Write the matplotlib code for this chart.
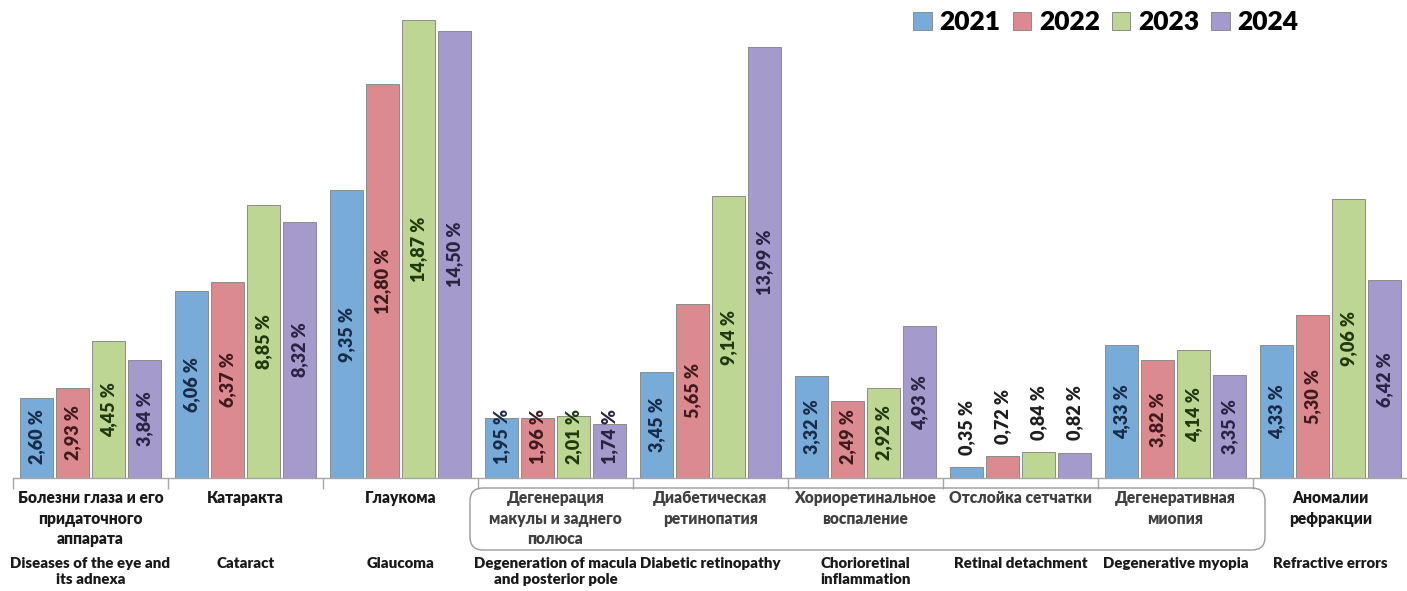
import matplotlib
matplotlib.use("Agg")
import matplotlib.pyplot as plt
import matplotlib.transforms as mtransforms
from matplotlib.patches import FancyBboxPatch, Patch
import numpy as np

plt.rcParams["font.family"] = ["Lato", "Open Sans", "DejaVu Sans"]
plt.rcParams["font.weight"] = "bold"

# -- data ---------------------------------------------------------------------
years = ["2021", "2022", "2023", "2024"]
labels_ru = [
    "Болезни глаза и его\nпридаточного\nаппарата",
    "Катаракта",
    "Глаукома",
    "Дегенерация\nмакулы и заднего\nполюса",
    "Диабетическая\nретинопатия",
    "Хориоретинальное\nвоспаление",
    "Отслойка сетчатки",
    "Дегенеративная\nмиопия",
    "Аномалии\nрефракции",
]
labels_en = [
    "Diseases of the eye and\nits adnexa",
    "Cataract",
    "Glaucoma",
    "Degeneration of macula\nand posterior pole",
    "Diabetic retinopathy",
    "Chorioretinal\ninflammation",
    "Retinal detachment",
    "Degenerative myopia",
    "Refractive errors",
]
v2021 = [2.60, 6.06, 9.35, 1.95, 3.45, 3.32, 0.35, 4.33, 4.33]
v2022 = [2.93, 6.37, 12.80, 1.96, 5.65, 2.49, 0.72, 3.82, 5.30]
v2023 = [4.45, 8.85, 14.87, 2.01, 9.14, 2.92, 0.84, 4.14, 9.06]
v2024 = [3.84, 8.32, 14.50, 1.74, 13.99, 4.93, 0.82, 3.35, 6.42]
series = [v2021, v2022, v2023, v2024]

bar_colors = ["#78abd7", "#db8a8f", "#bed693", "#a49acc"]
text_colors = ["#182b48", "#3f1a1d", "#1f380d", "#2a2342"]

# -- figure -------------------------------------------------------------------
W, H = 1407, 591
fig = plt.figure(figsize=(W / 100, H / 100), dpi=100)
fig.set_facecolor("white")

ax_left, ax_right = 13, 1408
ax_bottom, ax_top = 478, 16
ax = fig.add_axes((ax_left / W, 1 - ax_bottom / H,
                   (ax_right - ax_left) / W, (ax_bottom - ax_top) / H))

x = np.arange(len(labels_ru))
step = 36 / 155
width = 33 / 155
for k, vals in enumerate(series):
    pos = x + (k - 1.5) * step
    ax.bar(pos, vals, width=width, color=bar_colors[k],
           edgecolor="#8c8c8c", linewidth=0.7, zorder=2)
    for px, v in zip(pos, vals):
        txt = f"{v:.2f}".replace(".", ",") + " %"
        if v < 1:
            ax.text(px, v + 0.4, txt, rotation=90, ha="center", va="bottom",
                    fontsize=13, fontweight="heavy", color="#1e1e1e")
        else:
            ax.text(px, max(v / 2, 1.35), txt, rotation=90, ha="center",
                    va="center", fontsize=13, fontweight="heavy",
                    color=text_colors[k], zorder=3)

ax.set_xlim(-0.5, len(labels_ru) - 0.5)
ax.set_ylim(0, 15)
for s in ["top", "right", "left"]:
    ax.spines[s].set_visible(False)
ax.spines["bottom"].set_color("#a6a6a6")
ax.spines["bottom"].set_linewidth(1.0)
ax.set_yticks([])
ax.set_xticks(np.arange(-0.5, len(labels_ru)))
ax.set_xticklabels([])
ax.tick_params(axis="x", length=8, color="#a6a6a6", width=1.0)

# category labels under the axis
trans = mtransforms.blended_transform_factory(ax.transData, fig.transFigure)
for i, (ru, en) in enumerate(zip(labels_ru, labels_en)):
    inside = 3 <= i <= 7
    ax.text(i, 1 - 490 / H, ru, transform=trans, ha="center", va="top",
            fontsize=11.2, fontweight="heavy", linespacing=1.36,
            color="#404040" if inside else "#1a1a1a")
    ax.text(i, 1 - 557 / H, en, transform=trans, ha="center", va="top",
            fontsize=10.8, fontweight="heavy", linespacing=1.3, color="#1a1a1a")

# rounded box around the middle group of russian labels
box = FancyBboxPatch((4.70, (H - 550) / 100), 12.65 - 4.70, (550 - 488) / 100,
                     boxstyle="round,pad=0,rounding_size=0.13",
                     transform=fig.dpi_scale_trans, facecolor="none",
                     edgecolor="#9a9a9a", linewidth=1.0)
fig.patches.append(box)

# legend
handles = [Patch(facecolor=c, edgecolor="#8c8c8c", linewidth=0.7) for c in bar_colors]
fig.legend(handles, years, loc="center", bbox_to_anchor=(1106 / W, 1 - 22 / H),
           ncol=4, frameon=False, prop={"size": 19, "weight": "heavy"},
           handlelength=0.7, handleheight=0.7, handletextpad=0.3,
           columnspacing=0.45, borderaxespad=0)

fig.savefig("out.png", dpi=100, facecolor="white")
